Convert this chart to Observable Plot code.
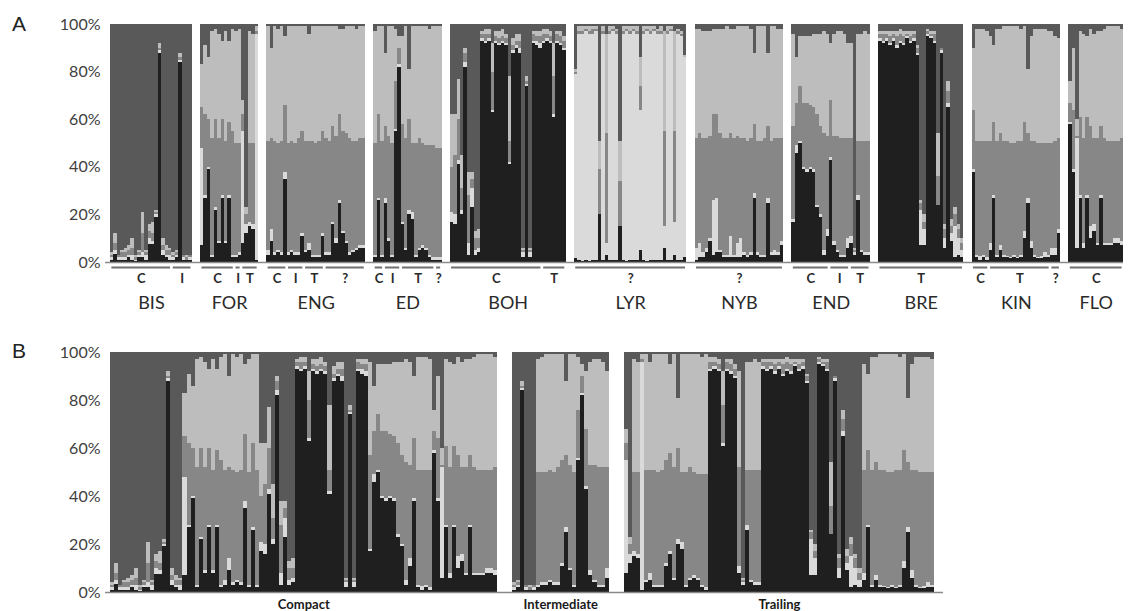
<!DOCTYPE html>
<html><head><meta charset="utf-8">
<script src="https://cdn.jsdelivr.net/npm/d3@7"></script>
<script src="https://cdn.jsdelivr.net/npm/@observablehq/plot@0.6"></script>
<style>
body{margin:0;background:#fff;font-family:Lato,sans-serif;}
#wrap{position:relative;width:1129px;height:611px;overflow:hidden;}
#wrap svg{display:block}
.panel{position:absolute;left:12px;font:21px "Liberation Sans",Arial,sans-serif;color:#222;line-height:24px}
</style></head><body>
<div id="wrap"><div class="panel" style="top:12px">A</div><div class="panel" style="top:339px">B</div></div>
<script>
// Cluster membership per individual, read as cumulative % tops:
// [black, +very light, +mid gray, +light gray]; dark gray fills the rest to 100%.
const clusters = ["K1","K2","K3","K4","K5"];
const clusterColors = ["#1f1f1f","#dadada","#878787","#bdbdbd","#595959"];
const yTicks = [0,20,40,60,80,100];

const BIS_C = [[1,2,3,4],[3.5,5,8,12],[1,2,3,3],[1,2,4,5],[1,2,4,6],[2,3,5,7],[1,3,6,10],[0.5,1,2,3],[2,3,4,5],[2,4,12,21],[1,3,4,5],[7.5,10,13,16],[7.5,9,12,17],[19,20,21,22],[88,89,90,92],[3,5,7,10],[2,3,5,7],[1,3,5,6]];
const BIS_I = [[1,2,3,4],[2,3,4,5],[84,85,86,88],[1,2,3,3],[1,1,2,3],[1,2,3,3]];
const FOR_C = [[7,48,65,83],[27,28,62,91],[39,40,60,86],[2,3,52,97],[22,23,60,98],[8,9,52,96],[27,28,60,93],[8,9,51,97],[27,28,59,93],[2,3,55,98]];
const FOR_I = [[2,3,50,97],[3,4,50,98]];
const FOR_T = [[8,55,62,68],[12,16,20,23],[15,17,50,97],[14,16,50,96],[1,96,97,99]];
const ENG_C = [[3,5,51,99],[9,14,52,90],[3,4,51,99],[4,5,50,98],[3,4,51,99],[35,38,66,95]];
const ENG_I = [[3,4,50,99],[4,5,51,99],[3,4,50,99],[3,4,52,99],[11,12,55,99]];
const ENG_T = [[4,5,51,99],[5,8,51,96],[2,3,51,99],[2,3,50,99],[2,3,51,99],[11,12,55,99]];
const ENG_Q = [[3,4,52,99],[3,4,51,99],[16,17,57,99],[8,10,53,99],[25,26,62,98],[12,13,55,98],[8,9,54,99],[3,4,52,99],[4,5,51,99],[5,6,51,98],[6,7,52,99],[6,7,52,99]];
const ED_C = [[2,3,50,97],[26,27,62,99],[2,3,51,99]];
const ED_I = [[25,27,57,88],[9,10,53,99],[2,3,50,99],[55,56,76,98],[82,83,90,95]];
const ED_T = [[16,17,58,95],[5,6,52,99],[20,22,60,81],[18,21,50,99],[2,3,50,99],[5,6,52,99],[6,7,50,99],[5,6,49,99],[2,3,49,98],[1,2,49,99]];
const ED_Q = [[1,2,48,99],[1,2,48,99]];
const BOH_C = [[17,21,40,62],[16,20,45,62],[41,43,60,77],[20,22,31,45],[82,84,88,90],[3,8,28,38],[23,31,35,38],[3,5,10,13],[4,6,10,14],
  [93,94,96,97],[92,93,96,98],[93,94,96,98],[63,64,80,92],[92,93,95,97],[91,92,94,97],[92,93,95,98],[91,92,94,96],[41,42,51,78],[88,89,91,94],[90,91,93,96],[88,90,93,96],
  [2,4,5,6],[74,75,76,78],[2,4,5,6],[92,93,96,97],[91,93,95,97],[90,92,95,97]];
const BOH_T = [[92,93,96,98],[93,94,96,98],[92,93,95,97],[61,62,78,92],[92,93,96,97],[91,92,95,97],[89,90,93,95]];
const LYR_Q = [[1.5,79,80,81],[1,96,97,99],[0.5,96,97,99],[1,97,98,99],[0.5,96,97,99],[1,96,98,99],[1,97,98,99],[20,20,39,51],[1,96,97,99],[3,8,54,96],[1,96,97,99],[1,97,98,99],[1,96,97,98],[15,15,34,51],[1,96,97,99],[0.5,97,98,99],[1,96,97,99],[1,97,98,99],[1,96,97,99],[5,64,74,86],[1,96,97,99],[0.5,97,98,99],[1,96,97,99],[1,97,98,99],[1,96,97,98],[1,96,97,99],[6,15,55,97],[1,96,97,99],[1,97,98,99],[3,17,55,97],[1,96,97,98],[1,95,96,97],[2,86,86,87]];
const NYB_Q = [[1,6,52,98],[2,8,54,98],[2,4,52,97],[4,6,52,97],[9,10,53,97],[3,26,62,98],[4,27,62,98],[4,5,54,98],[2,3,52,98],[2,3,52,99],[2,11,54,98],[2,3,52,98],[2,8,53,99],[2,10,52,99],[3,4,52,99],[2,3,51,99],[3,4,52,98],[27,29,58,88],[3,4,51,99],[2,3,51,99],[2,3,52,99],[25,27,57,88],[3,4,51,99],[3,5,52,99],[3,4,52,98],[7,9,52,98]];
const END_C = [[17,18,57,96],[46,49,67,86],[50,51,74,95],[39,40,67,95],[38,39,67,95],[39,40,66,95],[38,39,65,96],[23,24,62,96],[19,20,57,96],[3,5,54,97],[11,14,53,96]];
const END_I = [[43,44,68,92],[7,9,53,96],[4,5,53,97],[2,3,52,97],[2,3,52,96],[6,10,52,92]];
const END_T = [[8,11,52,92],[3,4,5,6],[26,28,51,96],[4,5,51,96],[3,4,51,97],[3,4,51,96]];
const BRE_T = [[93,94,96,97],[92,93,96,97],[93,94,96,97],[91,92,95,97],[93,94,96,97],[90,91,95,97],[92,93,96,98],[91,92,95,97],[94,95,96,97],[92,93,95,97],[93,94,96,97],[87,88,90,91],[7,22,25,26],[7,14,17,20],[95,96,97,98],[94,95,96,97],[92,93,96,97],[24,24,36,54],[88,89,90,90],[6,10,14,16],[65,67,72,76],[9,12,15,18],[2,15,20,23],[3,10,14,16],[2,5,8,10]];
const KIN_C = [[38,39,64,90],[2,3,51,98],[1,2.5,51,98],[2,3,51,98],[1,2,51,97]];
const KIN_T = [[5,8,51,95],[27,28,59,91],[2,3,51,98],[5,7,54,98],[2,3,51,99],[2,2.5,51,99],[1.5,2,50,99],[2,3,50,99],[1.5,2,51,99],[2,3,51,98],[10,13,59,99],[25,27,54,81],[6,9,51,95],[2,3,51,98],[1.5,2,50,98],[1.5,2.5,50,98],[2,4,50,98],[2,3,50,97]];
const KIN_Q = [[3,6,50,97],[3,6,51,95],[12,14,52,94]];
const FLO_C = [[58,59,67,76],[38,39,64,90],[6,52,53,60],[27,28,61,97],[6,8,52,96],[27,28,61,95],[10,15,57,98],[13,16,52,96],[7,8,52,97],[27,28,57,97],[7,8,52,98],[7,8,51,99],[7,8,51,99],[8,10,51,99],[8,10,51,99],[7,9,52,98]];

const populations = ["BIS","FOR","ENG","ED","BOH","LYR","NYB","END","BRE","KIN","FLO"];
const morphotypes = ["Compact","Intermediate","Trailing"];

// Panel A: population -> subgroups (C compact, I intermediate, T trailing, ? unknown)
const panelA = [
  ["BIS", [["C",BIS_C],["I",BIS_I]]],
  ["FOR", [["C",FOR_C],["I",FOR_I],["T",FOR_T]]],
  ["ENG", [["C",ENG_C],["I",ENG_I],["T",ENG_T],["?",ENG_Q]]],
  ["ED",  [["C",ED_C],["I",ED_I],["T",ED_T],["?",ED_Q]]],
  ["BOH", [["C",BOH_C],["T",BOH_T]]],
  ["LYR", [["?",LYR_Q]]],
  ["NYB", [["?",NYB_Q]]],
  ["END", [["C",END_C],["I",END_I],["T",END_T]]],
  ["BRE", [["T",BRE_T]]],
  ["KIN", [["C",KIN_C],["T",KIN_T],["?",KIN_Q]]],
  ["FLO", [["C",FLO_C]]]
];
// Panel B: the same individuals regrouped by morphotype
const codeOf = {Compact:"C", Intermediate:"I", Trailing:"T"};
const panelB = morphotypes.map(m => [m, panelA.flatMap(([p, subs]) => subs.filter(s => s[0] === codeOf[m]).map(s => ["", s[1]]))]);

function splitCum(c){ return [c[0], c[1]-c[0], c[2]-c[1], c[3]-c[2], 100-c[3]]; }
function layout(groups, gap){
  const rows=[], subs=[], pops=[];
  let pos=0;
  groups.forEach(([label, gsubs], gi) => {
    if (gi > 0) pos += gap;
    const gStart = pos;
    gsubs.forEach(([sub, data]) => {
      const sStart = pos;
      data.forEach(c => {
        splitCum(c).forEach((v,k) => rows.push({x1:pos, x2:pos+1, k:clusters[k], v}));
        pos += 1;
      });
      subs.push({sub, start:sStart, end:pos});
    });
    pops.push({label, start:gStart, end:pos});
  });
  return {rows, subs, pops, total:pos};
}

const A = layout(panelA, 2.4);
const B = layout(panelB, 3.8);
const common = {
  y:{domain:[0,100], axis:null},
  color:{domain:clusters, range:clusterColors},
  style:{fontFamily:"Lato, sans-serif", background:"transparent", overflow:"visible"}
};
const bars = R => Plot.rectY(R.rows, Plot.stackY({x1:"x1", x2:"x2", y:"v", fill:"k", shapeRendering:"crispEdges"}));
const yAxis = () => Plot.axisY({ticks:yTicks, tickFormat:d => d + "%", tickSize:0, tickPadding:10, fontSize:16, color:"#404040", label:null});

const plotA = Plot.plot({
  ...common, width:1129, height:318, marginLeft:110, marginRight:6, marginTop:24, marginBottom:56,
  x:{domain:[0, A.total], axis:null},
  marks:[
    bars(A),
    Plot.ruleY([0], {stroke:"#8a8a8a", strokeWidth:1.5, insetLeft:-5}),
    yAxis(),
    Plot.ruleY(A.subs, {x1:d => d.start + 0.4, x2:d => d.end - 0.4, y:() => 0, dy:5, stroke:"#707070", strokeWidth:2}),
    Plot.text(A.subs, {x:d => (d.start + d.end)/2, y:() => 0, text:"sub", dy:16, fontSize:13, fontWeight:"bold", fill:"#2a2a2a"}),
    Plot.text(A.pops, {x:d => (d.start + d.end)/2, y:() => 0, text:"label", dy:41, fontSize:18, fill:"#2a2a2a"})
  ]
});
const plotB = Plot.plot({
  ...common, width:1129, height:293, marginLeft:110, marginRight:195, marginTop:34, marginBottom:19,
  x:{domain:[0, B.total], axis:null},
  marks:[
    bars(B),
    Plot.ruleY([0], {stroke:"#8a8a8a", strokeWidth:1.5, insetLeft:-5, insetRight:-9}),
    yAxis(),
    Plot.text(B.pops, {x:d => (d.start + d.end)/2, y:() => 0, text:"label", dy:12, fontSize:13, fontWeight:"bold", fill:"#1a1a1a"})
  ]
});
const wrap = document.getElementById("wrap");
wrap.insertBefore(plotB, wrap.firstChild);
wrap.insertBefore(plotA, wrap.firstChild);
</script>
</body></html>
